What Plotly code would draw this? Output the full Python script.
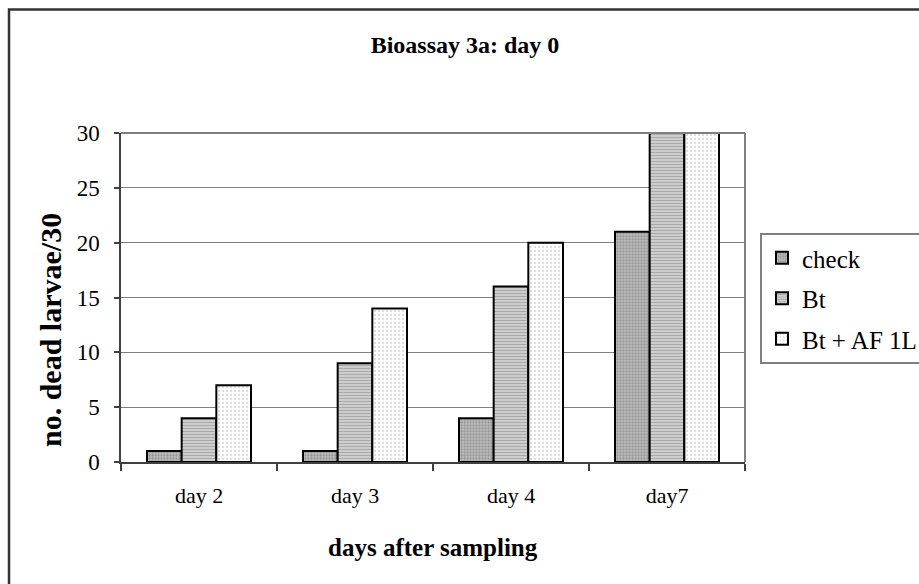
import plotly.graph_objects as go

categories = ["day 2", "day 3", "day 4", "day7"]
check = [1, 1, 4, 21]
bt = [4, 9, 16, 30]
bt_af = [7, 14, 20, 30]

FONT = "Liberation Serif, Times New Roman, serif"

W, H = 919, 584
L, R, T, B = 121, 919 - 745, 133, 584 - 462
PW, PH = W - L - R, H - T - B

def px_x(x):
    return (x - L) / PW

def px_y(y):
    return (H - B - y) / PH

fig = go.Figure()
fig.add_trace(go.Bar(
    x=categories, y=check, name="check", legendgroup="a",
    marker=dict(color="#bdbdbd", line=dict(color="black", width=2),
                pattern=dict(shape=".", fgcolor="#6e6e6e", bgcolor="#bdbdbd",
                             size=3, solidity=0.45, fillmode="overlay")),
))
fig.add_trace(go.Bar(
    x=categories, y=bt, name="Bt", legendgroup="b",
    marker=dict(color="#d8d8d8", line=dict(color="black", width=2),
                pattern=dict(shape="-", fgcolor="#7c7c7c", bgcolor="#d8d8d8",
                             size=3, solidity=0.5, fillmode="overlay")),
))
fig.add_trace(go.Bar(
    x=categories, y=bt_af, name="Bt + AF 1L", legendgroup="c",
    marker=dict(color="white", line=dict(color="black", width=2),
                pattern=dict(shape=".", fgcolor="#b8b8b8", bgcolor="white",
                             size=4, solidity=0.25, fillmode="overlay")),
))

fig.update_layout(
    width=W, height=H,
    margin=dict(l=L, r=R, t=T, b=B, autoexpand=False),
    paper_bgcolor="white", plot_bgcolor="white",
    barmode="group", bargap=1/3, bargroupgap=0,
    font=dict(family=FONT, color="black"),
    title=dict(text="<b>Bioassay 3a: day 0</b>", font=dict(size=24, family=FONT),
               x=465 / W, xref="container", xanchor="center",
               y=1 - 45 / H, yref="container", yanchor="middle"),
    legend=dict(x=px_x(760), y=px_y(233), xanchor="left", yanchor="top",
                xref="paper", yref="paper",
                bordercolor="#808080", borderwidth=2, bgcolor="white",
                font=dict(size=25, family=FONT), tracegroupgap=5,
                itemwidth=30),
    showlegend=True,
)

fig.update_xaxes(
    showline=True, linecolor="#404040", linewidth=1.5,
    ticks="outside", ticklen=7, tickcolor="#404040", tickwidth=1.5,
    tickson="boundaries", showgrid=False,
    tickfont=dict(size=22, family=FONT), ticklabelstandoff=13,
)
fig.update_yaxes(
    range=[0, 30], dtick=5, tick0=0,
    showline=True, linecolor="#404040", linewidth=1.5,
    ticks="outside", ticklen=5, tickcolor="#404040", tickwidth=1.5,
    showgrid=True, gridcolor="#808080", gridwidth=1,
    zeroline=False,
    tickfont=dict(size=23, family=FONT), ticklabelstandoff=10,
)

# plot area border (top/right) in gray
fig.add_shape(type="line", xref="paper", yref="paper", x0=1, x1=1, y0=0, y1=1,
              line=dict(color="#808080", width=2), layer="above")
fig.add_shape(type="line", xref="paper", yref="paper", x0=0, x1=1, y0=1, y1=1,
              line=dict(color="#808080", width=2), layer="above")
# outer chart border
fig.add_shape(type="rect", xref="paper", yref="paper",
              x0=px_x(9), x1=px_x(940), y0=px_y(600), y1=px_y(9.5),
              line=dict(color="#333333", width=2.5), layer="below")

# axis titles
fig.add_annotation(text="<b>days after sampling</b>", xref="paper", yref="paper",
                   x=px_x(433), y=px_y(547), showarrow=False,
                   xanchor="center", yanchor="middle",
                   font=dict(size=25, family=FONT))
fig.add_annotation(text="<b>no. dead larvae/30</b>", xref="paper", yref="paper",
                   x=px_x(50), y=px_y(330), showarrow=False, textangle=-90,
                   xanchor="center", yanchor="middle",
                   font=dict(size=30, family=FONT))

fig.write_html("out.html")
